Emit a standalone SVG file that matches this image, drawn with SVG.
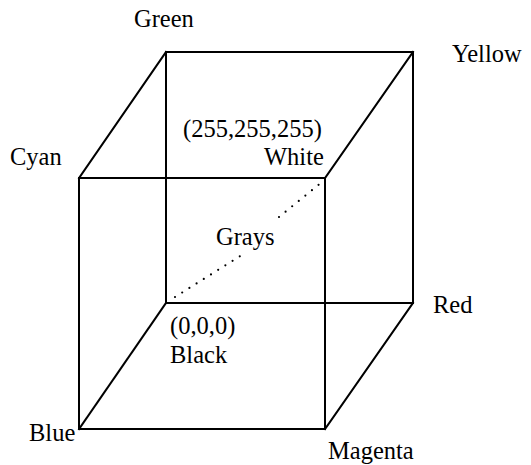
<svg xmlns="http://www.w3.org/2000/svg" width="531" height="465" viewBox="0 0 531 465">
<style>
.e{stroke:#000;stroke-width:2;fill:none;stroke-linecap:square}
.d{stroke:#000;stroke-width:2.2;fill:none;stroke-dasharray:0 8.5;stroke-linecap:round}
text{font-family:"Liberation Serif","Times New Roman",serif;font-size:24.5px;fill:#000}
</style>
<rect width="531" height="465" fill="#fff"/>
<g id="connectors">
<line class="e" x1="166" y1="52" x2="413" y2="52"/>
<line class="e" x1="166" y1="52" x2="166" y2="303"/>
<line class="e" x1="413" y1="52" x2="413" y2="303"/>
<line class="e" x1="166" y1="303" x2="413" y2="303"/>
<line class="e" x1="79" y1="178" x2="325" y2="178"/>
<line class="e" x1="79" y1="178" x2="79" y2="429"/>
<line class="e" x1="325" y1="178" x2="325" y2="429"/>
<line class="e" x1="79" y1="429" x2="325" y2="429"/>
<line class="e" x1="79" y1="178" x2="166" y2="52"/>
<line class="e" x1="325" y1="178" x2="413" y2="52"/>
<line class="e" x1="79" y1="429" x2="166" y2="303"/>
<line class="e" x1="325" y1="429" x2="413" y2="303"/>
<line class="d" x1="175" y1="297" x2="245" y2="253"/>
<line class="d" x1="279" y1="217" x2="322" y2="182"/>
</g>
<g id="green"><text x="134" y="27">Green</text></g>
<g id="yellow"><text x="452" y="62">Yellow</text></g>
<g id="white"><text x="183" y="137">(255,255,255)</text><text x="264" y="165">White</text></g>
<g id="cyan"><text x="10" y="165">Cyan</text></g>
<g id="grays"><text x="216" y="245">Grays</text></g>
<g id="red"><text x="433" y="313">Red</text></g>
<g id="black"><text x="170" y="334">(0,0,0)</text><text x="170" y="363">Black</text></g>
<g id="blue"><text x="29" y="441">Blue</text></g>
<g id="magenta"><text x="328" y="459">Magenta</text></g>
</svg>
